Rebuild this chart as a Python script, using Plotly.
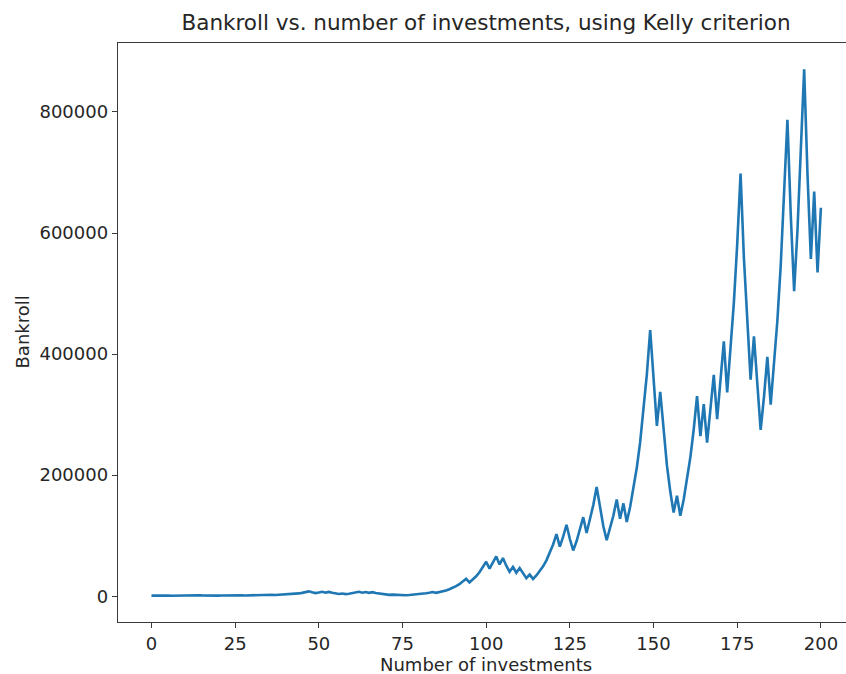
import plotly.graph_objects as go

# Bankroll after each investment (index 0..200)
steps = list(range(201))
bankroll = [
    1000, 1200, 960, 1152, 1382, 1106, 885, 1062, 1274, 1529,
    1835, 2202, 1762, 1409, 1691, 1353, 1082, 1299, 1559, 1247,
    998, 1197, 1437, 1149, 1379, 1655, 1324, 1589, 1271, 1525,
    1830, 1464, 1757, 2108, 1687, 2024, 2429, 1943, 2332, 2798,
    2238, 2686, 3223, 3868, 4641, 5570, 6684, 8020, 6416, 5133,
    6159, 7391, 5913, 7096, 5677, 4541, 3633, 4360, 3488, 4185,
    5022, 6027, 7232, 5786, 6943, 5554, 6665, 5332, 4266, 3413,
    2730, 2184, 2621, 2097, 2516, 2013, 1610, 1932, 2318, 2782,
    3338, 4006, 4807, 5768, 6922, 5537, 6644, 7973, 9568, 11481,
    13778, 16600, 19900, 23900, 28700, 22900, 27500, 33000, 39600, 47500,
    57000, 45600, 54800, 65700, 52600, 63100, 50500, 40400, 48500, 38800,
    46500, 37200, 29800, 35700, 28600, 34300, 41200, 49400, 59300, 71200,
    85400, 102500, 82000, 98400, 118100, 94500, 75600, 90700, 108900, 130600,
    104500, 125400, 150500, 180600, 144500, 115600, 92500, 111000, 133200, 159800,
    127800, 153400, 122700, 147300, 176700, 212100, 254500, 305400, 366500, 439800,
    351800, 281500, 337700, 270200, 216100, 172900, 138300, 166000, 132800, 159400,
    191200, 229500, 275400, 330500, 264400, 317300, 253800, 304600, 365500, 292400,
    350900, 421100, 336800, 404200, 485000, 582000, 698400, 558700, 447000, 357600,
    429100, 343300, 274600, 329500, 395400, 316300, 379600, 455500, 546600, 655900,
    787100, 629700, 503700, 604500, 725400, 870400, 696300, 557100, 668500, 534800,
    641800,
]

x_ticks = [0, 25, 50, 75, 100, 125, 150, 175, 200]
y_ticks = [0, 200000, 400000, 600000, 800000]

FONT = "DejaVu Sans"
TEXT = "#262626"
AXIS = "#3a3a3a"

fig = go.Figure()
fig.add_trace(go.Scatter(
    x=steps, y=bankroll, mode="lines",
    line=dict(color="#1f77b4", width=2.6),
    showlegend=False, hoverinfo="skip",
))

fig.update_layout(
    width=846, height=674,
    margin=dict(l=118, r=0, t=43, b=52),
    paper_bgcolor="white", plot_bgcolor="white",
    font=dict(family=FONT, size=18, color=TEXT),
    title=dict(
        text="Bankroll vs. number of investments, using Kelly criterion",
        font=dict(family=FONT, size=21.5, color=TEXT),
        x=486 / 846, xref="container", xanchor="center",
        y=1 - 22 / 674, yref="container", yanchor="middle",
    ),
    xaxis=dict(
        range=[-10, 207.5], tickvals=x_ticks, ticktext=[str(v) for v in x_ticks],
        showgrid=False, zeroline=False,
        showline=True, linecolor=AXIS, linewidth=1.4, mirror=True,
        ticks="outside", ticklen=5, tickwidth=1.3, tickcolor=AXIS,
        tickfont=dict(family=FONT, size=18, color=TEXT),
    ),
    yaxis=dict(
        range=[-42590, 913875], tickvals=y_ticks, ticktext=[str(v) for v in y_ticks],
        showgrid=False, zeroline=False,
        showline=True, linecolor=AXIS, linewidth=1.4,
        ticks="outside", ticklen=5, tickwidth=1.3, tickcolor=AXIS,
        tickfont=dict(family=FONT, size=18, color=TEXT),
    ),
    annotations=[
        dict(text="Number of investments", xref="paper", yref="paper",
             x=(486 - 118) / 728, y=-(664 - 622) / 579, xanchor="center", yanchor="middle",
             showarrow=False, font=dict(family=FONT, size=18, color=TEXT)),
        dict(text="Bankroll", xref="paper", yref="paper",
             x=-(118 - 22) / 728, y=0.5, xanchor="center", yanchor="middle",
             textangle=-90, showarrow=False, font=dict(family=FONT, size=18, color=TEXT)),
    ],
)

fig.write_html("out.html")
